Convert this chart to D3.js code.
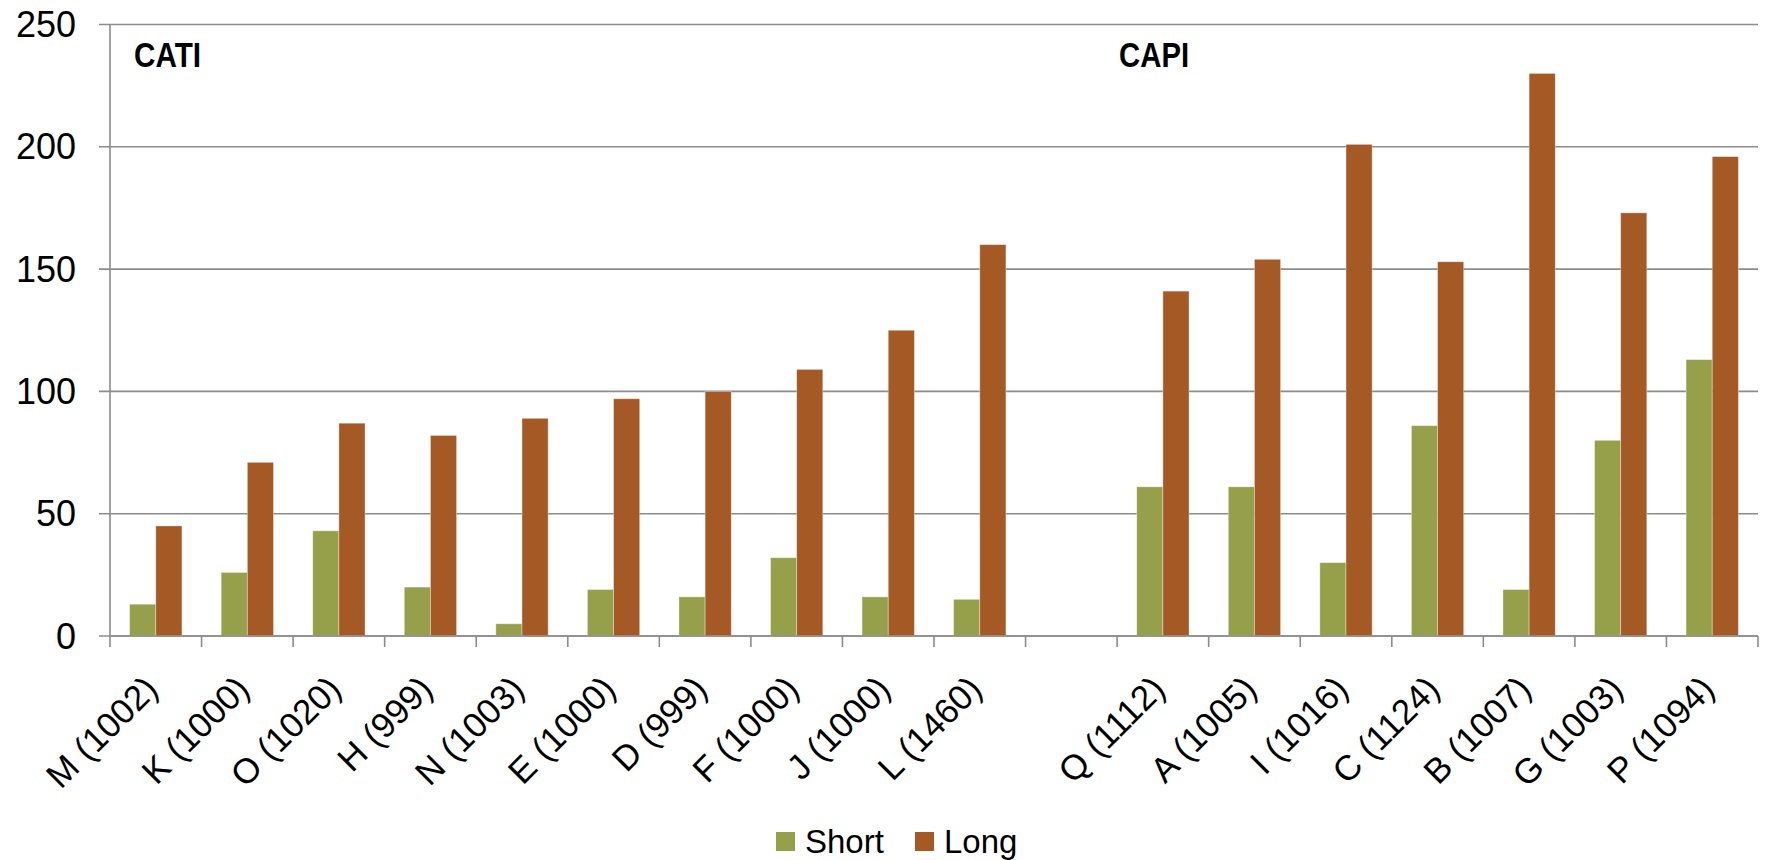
<!DOCTYPE html>
<html>
<head>
<meta charset="utf-8">
<script src="https://cdn.jsdelivr.net/npm/d3@7/dist/d3.min.js"></script>
<style>
  html, body { margin: 0; padding: 0; background: #fff; }
  svg { display: block; }
</style>
</head>
<body>
<svg id="chart" width="1769" height="860"></svg>
<script>
// Survey modes and their units (sample size in brackets)
const catiUnits = ["M (1002)", "K (1000)", "O (1020)", "H (999)", "N (1003)",
                   "E (1000)", "D (999)", "F (1000)", "J (1000)", "L (1460)"];
const capiUnits = ["Q (1112)", "A (1005)", "I (1016)", "C (1124)",
                   "B (1007)", "G (1003)", "P (1094)"];

// Values per unit, same order as above
const catiShort = [13, 26, 43, 20, 5, 19, 16, 32, 16, 15];
const catiLong  = [45, 71, 87, 82, 89, 97, 100, 109, 125, 160];
const capiShort = [61, 61, 30, 86, 19, 80, 113];
const capiLong  = [141, 154, 201, 153, 230, 173, 196];

const seriesNames = ["Short", "Long"];
const yTicks = [0, 50, 100, 150, 200, 250];
const groupTitles = ["CATI", "CAPI"];

const colors = { Short: "#96a04b", Long: "#a55a26" };

// spacer slot between the two groups
const SPACER = "__gap__";
const categories = [...catiUnits, SPACER, ...capiUnits];

const rows = [
  ...catiUnits.map((u, i) => ({ unit: u, Short: catiShort[i], Long: catiLong[i] })),
  ...capiUnits.map((u, i) => ({ unit: u, Short: capiShort[i], Long: capiLong[i] }))
];

const svg = d3.select("#chart");
const plot = { left: 110, right: 1758, top: 24.5, bottom: 636 };

const x = d3.scaleBand()
  .domain(categories)
  .range([plot.left, plot.right])
  .paddingInner(0).paddingOuter(0);

const barW = x.bandwidth() / 3.5;      // two bars + 150% gap
const xSub = d3.scaleBand()
  .domain(seriesNames)
  .range([0, barW * 2]);

const y = d3.scaleLinear()
  .domain([0, 250])
  .range([plot.bottom, plot.top]);

const gridColor = "#8c8c8c";

// horizontal gridlines with left tick stubs
svg.append("g")
  .selectAll("line")
  .data(yTicks)
  .join("line")
  .attr("x1", plot.left - 11)
  .attr("x2", plot.right)
  .attr("y1", d => y(d))
  .attr("y2", d => y(d))
  .attr("stroke", gridColor)
  .attr("stroke-width", 1.6);

// y-axis labels
svg.append("g")
  .selectAll("text")
  .data(yTicks)
  .join("text")
  .attr("x", 76)
  .attr("y", d => y(d))
  .attr("dy", "0.35em")
  .attr("text-anchor", "end")
  .attr("font-family", "'Liberation Sans', Arial, sans-serif")
  .attr("font-size", 36)
  .attr("fill", "#000")
  .text(d => d);

// vertical axis line
svg.append("line")
  .attr("x1", plot.left).attr("x2", plot.left)
  .attr("y1", plot.top).attr("y2", plot.bottom)
  .attr("stroke", gridColor)
  .attr("stroke-width", 1.6);

// bars
const groups = svg.append("g")
  .selectAll("g")
  .data(rows)
  .join("g")
  .attr("transform", d => `translate(${x(d.unit) + (x.bandwidth() - barW * 2) / 2},0)`);

groups.selectAll("rect")
  .data(d => seriesNames.map(k => ({ key: k, value: d[k] })))
  .join("rect")
  .attr("x", d => xSub(d.key))
  .attr("width", xSub.bandwidth())
  .attr("y", d => y(d.value))
  .attr("height", d => y(0) - y(d.value))
  .attr("fill", d => colors[d.key])
  .attr("stroke", "rgba(255,255,255,0.45)")
  .attr("stroke-width", 0.8);

// x-axis baseline and boundary ticks
svg.append("line")
  .attr("x1", plot.left).attr("x2", plot.right)
  .attr("y1", plot.bottom).attr("y2", plot.bottom)
  .attr("stroke", gridColor)
  .attr("stroke-width", 1.6);

const boundaries = categories.map(c => x(c)).concat([plot.right]);
svg.append("g")
  .selectAll("line")
  .data(boundaries)
  .join("line")
  .attr("x1", d => d).attr("x2", d => d)
  .attr("y1", plot.bottom).attr("y2", plot.bottom + 11)
  .attr("stroke", gridColor)
  .attr("stroke-width", 1.6);

// rotated category labels
svg.append("g")
  .selectAll("text")
  .data(categories.filter(c => c !== SPACER))
  .join("text")
  .attr("transform", c => `translate(${x(c) + x.bandwidth() / 2 + 4},${plot.bottom + 55}) rotate(-45)`)
  .attr("text-anchor", "end")
  .attr("font-family", "'Liberation Sans', Arial, sans-serif")
  .attr("font-size", 35)
  .attr("fill", "#000")
  .text(c => c);

// group titles (condensed, heavier)
const titleX = [x(catiUnits[0]) + 24, x(capiUnits[0]) + 2];
const titleW = [67, 70];
svg.append("g")
  .selectAll("text")
  .data(groupTitles)
  .join("text")
  .attr("x", (d, i) => titleX[i])
  .attr("y", 67)
  .attr("font-family", "'Liberation Sans', Arial, sans-serif")
  .attr("font-size", 35)
  .attr("font-weight", "bold")
  .attr("fill", "#000")
  .attr("textLength", (d, i) => titleW[i])
  .attr("lengthAdjust", "spacingAndGlyphs")
  .text(d => d);

// legend
const legendX = [776, 915];
const legend = svg.append("g")
  .selectAll("g")
  .data(seriesNames)
  .join("g")
  .attr("transform", (d, i) => `translate(${legendX[i]},0)`);

legend.append("rect")
  .attr("x", 0).attr("y", 832)
  .attr("width", 19).attr("height", 19)
  .attr("fill", d => colors[d]);

legend.append("text")
  .attr("x", 29)
  .attr("y", 852.5)
  .attr("font-family", "'Liberation Sans', Arial, sans-serif")
  .attr("font-size", 33)
  .attr("fill", "#000")
  .text(d => d);
</script>
</body>
</html>
